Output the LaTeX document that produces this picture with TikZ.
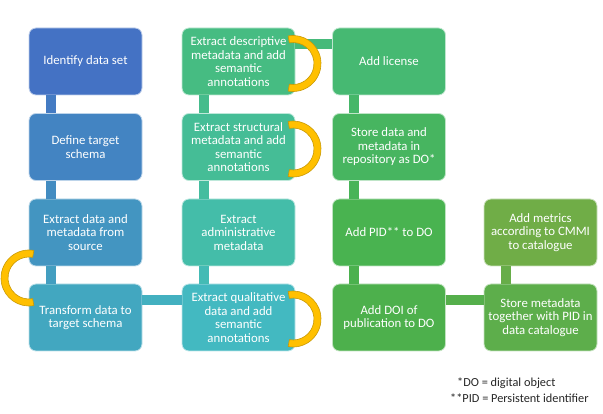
\documentclass[tikz,border=0pt]{standalone}
\usepackage{fontspec}
\setmainfont{Carlito}
\definecolor{c1}{HTML}{4472C4}
\definecolor{c2}{HTML}{4384C2}
\definecolor{c3}{HTML}{4395C1}
\definecolor{c4}{HTML}{42A7C0}
\definecolor{c5}{HTML}{43B9C1}
\definecolor{c6}{HTML}{44BDA9}
\definecolor{c7}{HTML}{45BD96}
\definecolor{c8}{HTML}{46BC82}
\definecolor{c9}{HTML}{46B972}
\definecolor{c10}{HTML}{47B560}
\definecolor{c11}{HTML}{49B350}
\definecolor{c12}{HTML}{4DB04C}
\definecolor{c13}{HTML}{5DAE4B}
\definecolor{c14}{HTML}{70AD47}
\definecolor{arcfill}{HTML}{FFC000}
\definecolor{arcline}{HTML}{C99A06}
\begin{document}
\begin{tikzpicture}[x=1pt, y=-1pt,
        bx/.style={fill=#1, draw=white!65!#1, line width=0.8pt, rounded corners=7pt,
          minimum width=113pt, minimum height=67pt, inner sep=2pt, align=center,
          text=white, font=\fontsize{12.8}{13.5}\selectfont},
        lk/.style={line width=10pt, draw=#1},
        bendarc/.style={fill=arcfill, draw=arcline, line width=0.6pt}
      ]
      \useasboundingbox (0,0) rectangle (603,414);
      % first column, going down
      \node[bx=c1] (ident) at (85.5,61.5) {Identify data set};
      \node[bx=c2] (defn) at (85.5,147) {Define target\\schema};
      \node[bx=c3] (extr) at (85.5,232.5) {Extract data and\\metadata from\\source};
      \node[bx=c4] (trans) at (85.5,317.5) {Transform data to\\target schema};
      % second column, going up
      \node[bx=c5] (qual) at (238.5,317.5) {Extract qualitative\\data and add\\semantic\\annotations};
      \node[bx=c6] (admin) at (238.5,232.5) {Extract\\administrative\\metadata};
      \node[bx=c7] (struc) at (238.5,147) {Extract structural\\metadata and add\\semantic\\annotations};
      \node[bx=c8] (descr) at (238.5,61.5) {Extract descriptive\\metadata and add\\semantic\\annotations};
      % third column, going down
      \node[bx=c9] (lic) at (389,61.5) {Add license};
      \node[bx=c10] (store) at (389,147) {Store data and\\metadata in\\repository as DO*};
      \node[bx=c11] (pid) at (389,232.5) {Add PID** to DO};
      \node[bx=c12] (doi) at (389,317.5) {Add DOI of\\publication to DO};
      % last column, going up
      \node[bx=c13] (cat) at (540.5,317.5) {Store metadata\\together with PID in\\data catalogue};
      \node[bx=c14] (metr) at (540.5,232.5) {Add metrics\\according to CMMI\\to catalogue};
      % links
      \foreach \a/\b/\c/\d in {ident/defn/c1/c2, defn/extr/c2/c3, extr/trans/c3/c4,
          descr/struc/c8/c7, struc/admin/c7/c6, admin/qual/c6/c5,
          lic/store/c9/c10, store/pid/c10/c11, pid/doi/c11/c12, metr/cat/c14/c13} {
        \draw[lk=\c!50!\d] ([xshift=22pt]\a.south west) -- ([xshift=22pt]\b.north west);
      }
      \foreach \a/\b/\c/\d in {trans/qual/c4/c5, descr/lic/c8/c9, doi/cat/c12/c13} {
        \draw[lk=\c!50!\d] ([yshift=-16.5pt]\a.north east) -- ([yshift=-16.5pt]\b.north west);
      }
      % yellow bends
      \foreach \cx/\cy/\a in {29/278/180, 293/63.5/0, 293/149/0, 293/319/0} {
        \filldraw[bendarc] ([shift={(\a-100:28)}]\cx,\cy) arc[start angle=\a-100, end angle=\a+100, radius=28]
          -- ([shift={(\a+100:21)}]\cx,\cy) arc[start angle=\a+100, end angle=\a-100, radius=21] -- cycle;
      }
      % notes
      \node[anchor=west, inner sep=0pt, text=black!85, font=\fontsize{12.3}{14}\selectfont] (fn1) at (457,383) {*DO = digital object};
      \node[anchor=west, inner sep=0pt, text=black!85, font=\fontsize{12.3}{14}\selectfont] (fn2) at (450,398) {**PID = Persistent identifier};
    \end{tikzpicture}
\end{document}
